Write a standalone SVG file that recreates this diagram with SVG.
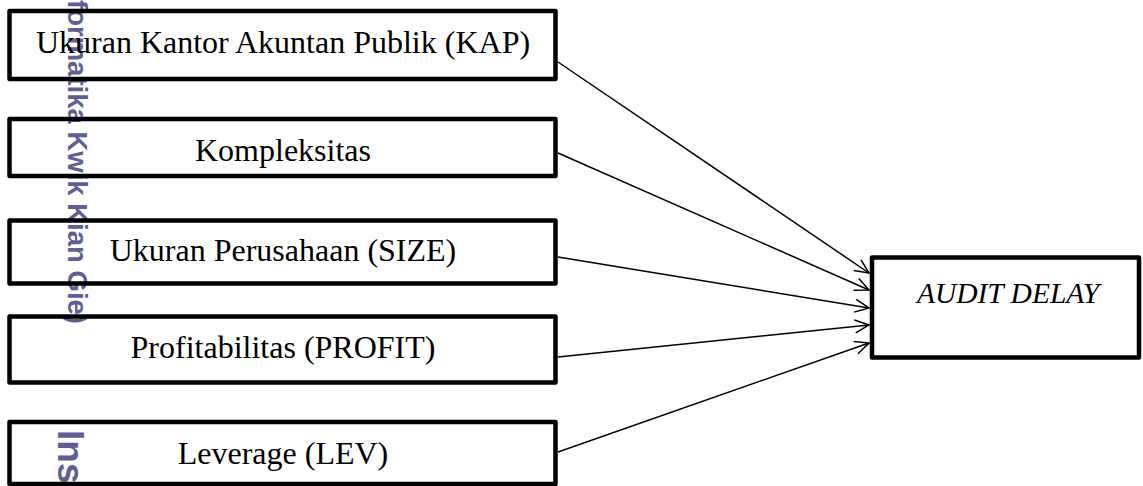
<svg xmlns="http://www.w3.org/2000/svg" width="1143" height="486" viewBox="0 0 1143 486">
<style>
.box{fill:none;stroke:#000;stroke-width:4.5;stroke-linejoin:round}
.lbl{font-family:"Liberation Serif","Times New Roman",serif;font-size:32px;fill:#000;text-anchor:middle}
.it{font-style:italic;font-size:29.5px}
.wm{font-family:"Liberation Sans",Arial,sans-serif;font-weight:bold;fill:#5f5f96}
.conn{stroke:#000;stroke-width:1.5;fill:none}
</style>
<defs>
<marker id="arr" markerUnits="userSpaceOnUse" markerWidth="20" markerHeight="16" viewBox="-16 -8 18 16" refX="0" refY="0" orient="auto">
<path d="M-14,-6.5 L0,0 L-14,6.5" fill="none" stroke="#000" stroke-width="1.5"/>
</marker>
</defs>
<rect width="1143" height="486" fill="#fff"/>
<g id="watermark">
<text class="wm" font-size="27.5" transform="translate(68,0) rotate(90)">formatika Kwik Kian Gie)</text>
<text class="wm" font-size="37" transform="translate(58,430) rotate(90)">Ins</text>
</g>
<g id="n1"><rect class="box" x="9.5" y="11" width="546" height="68"/><text class="lbl" x="283" y="53">Ukuran Kantor Akuntan Publik (KAP)</text></g>
<g id="n2"><rect class="box" x="9.5" y="119" width="546" height="57"/><text class="lbl" x="283" y="161">Kompleksitas</text></g>
<g id="n3"><rect class="box" x="9.5" y="220.5" width="546" height="63"/><text class="lbl" x="283" y="261">Ukuran Perusahaan (SIZE)</text></g>
<g id="n4"><rect class="box" x="9.5" y="316.5" width="546" height="66"/><text class="lbl" x="283" y="358">Profitabilitas (PROFIT)</text></g>
<g id="n5"><rect class="box" x="9.5" y="422" width="546" height="62"/><text class="lbl" x="283" y="464">Leverage (LEV)</text></g>
<g id="target"><rect class="box" x="872" y="257.5" width="267" height="100"/><text class="lbl it" x="1008" y="303">AUDIT DELAY</text></g>
<g id="connectors">
<line class="conn" x1="558" y1="62" x2="869" y2="273" marker-end="url(#arr)"/>
<line class="conn" x1="558" y1="153" x2="869" y2="290" marker-end="url(#arr)"/>
<line class="conn" x1="558" y1="257" x2="869" y2="308" marker-end="url(#arr)"/>
<line class="conn" x1="558" y1="357" x2="869" y2="325" marker-end="url(#arr)"/>
<line class="conn" x1="558" y1="452" x2="869" y2="343" marker-end="url(#arr)"/>
</g>
</svg>
